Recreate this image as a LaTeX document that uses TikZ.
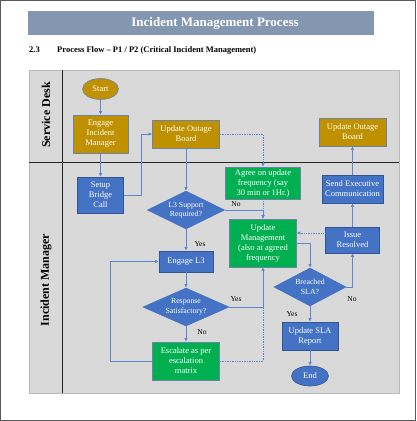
\documentclass[tikz,border=0pt]{standalone}
\usepackage{fontspec}
\setmainfont{Liberation Serif}
\usetikzlibrary{shapes.geometric,arrows.meta}
\definecolor{gold}{HTML}{BF9000}
\definecolor{boxblue}{HTML}{4472C4}
\definecolor{boxgreen}{HTML}{00B050}
\definecolor{edgeblue}{HTML}{6A84A8}
\definecolor{lineblue}{HTML}{5B86D3}
\definecolor{lanegray}{HTML}{D9D9D9}
\definecolor{titlebar}{HTML}{8497B0}
\tikzset{
  box/.style={draw=edgeblue, line width=0.6pt, text=white, align=center,
    font=\fontsize{8.5}{10}\selectfont, inner sep=0pt},
  goldbox/.style={box, fill=gold},
  bluebox/.style={box, fill=boxblue, draw=boxblue!75!black},
  greenbox/.style={box, fill=boxgreen},
  decision/.style={box, diamond, aspect=2.2, fill=boxblue, draw=boxblue,
    font=\fontsize{7.8}{9.5}\selectfont},
  terminal/.style={box, ellipse},
  lbl/.style={font=\fontsize{7.5}{8}\selectfont, inner sep=0pt},
  flow/.style={draw=lineblue, line width=0.7pt, -{Latex[length=3.5pt,width=3.5pt]}},
  link/.style={draw=lineblue, line width=0.7pt},
  dots/.style={draw=lineblue, line width=0.7pt, densely dotted}
}
\begin{document}
\begin{tikzpicture}[x=1pt,y=-1pt]
  \useasboundingbox (0,0) rectangle (416,421);
  \draw[gray!70!black, line width=1pt] (0.5,0.5) rectangle (415.5,420.5);
  % heading
  \fill[titlebar] (28,11) rectangle (374,35);
  \node[text=white, font=\bfseries\fontsize{13}{15}\selectfont] (title) at (215,23) {Incident Management Process};
  \node[anchor=west, font=\bfseries\fontsize{8.5}{10}\selectfont, inner sep=0pt] (secno) at (29,50) {2.3};
  \node[anchor=west, font=\bfseries\fontsize{8.5}{10}\selectfont, inner sep=0pt] (subtitle) at (57,50) {Process Flow -- P1 / P2 (Critical Incident Management)};
  % swim lanes
  \fill[lanegray] (29,70) rectangle (399,393);
  \draw[gray!55] (29,70) rectangle (399,393);
  \draw[gray!30!black, line width=0.8pt] (62,70) -- (62,393);
  \draw[gray!30!black, line width=0.8pt] (29,162) -- (399,162);
  \node[rotate=90, font=\bfseries\fontsize{12}{14}\selectfont] (sdlane) at (46,115) {Service Desk};
  \node[rotate=90, font=\bfseries\fontsize{12}{14}\selectfont] (imlane) at (46,280) {Incident Manager};

  % service desk
  \node[terminal, fill=gold, minimum width=36pt, minimum height=21pt] (start) at (100.5,89) {Start};
  \node[goldbox, minimum width=55pt, minimum height=38pt] (engage) at (100.5,134) {Engage\\Incident\\Manager};
  \node[goldbox, minimum width=67pt, minimum height=28pt] (board) at (186,134) {Update Outage\\Board};
  \node[goldbox, minimum width=67pt, minimum height=28pt] (boardb) at (352.5,132) {Update Outage\\Board};

  % incident manager
  \node[bluebox, minimum width=46pt, minimum height=36pt] (bridge) at (100.5,195) {Setup\\Bridge\\Call};
  \node[decision, minimum width=77pt, minimum height=38pt] (support) at (186,210) {L3 Support\\Required?};
  \node[greenbox, minimum width=75pt, minimum height=32pt] (agree) at (263,183) {Agree on update\\frequency (say\\30 min or 1Hr.)};
  \node[greenbox, minimum width=67pt, minimum height=48pt] (update) at (263,243) {Update\\Management\\(also at agreed\\frequency};
  \node[bluebox, minimum width=54pt, minimum height=21pt] (engagel) at (186,261.5) {Engage L3};
  \node[decision, minimum width=86pt, minimum height=38pt] (response) at (186,307) {Response\\Satisfactory?};
  \node[greenbox, minimum width=67pt, minimum height=38pt] (escalate) at (186,361) {Escalate as per\\escalation\\matrix};
  \node[bluebox, minimum width=61pt, minimum height=28pt] (exec) at (352.5,189) {Send Executive\\Communication};
  \node[bluebox, minimum width=54pt, minimum height=26pt] (resolved) at (352.5,240) {Issue\\Resolved};
  \node[decision, minimum width=72pt, minimum height=38pt] (breach) at (310,287) {Breached\\SLA?};
  \node[bluebox, minimum width=56pt, minimum height=28pt] (report) at (310,336) {Update SLA\\Report};
  \node[terminal, fill=boxblue, draw=boxblue!75!black, minimum width=37pt, minimum height=20pt] (end) at (310,376) {End};

  % connectors
  \draw[flow] (start) -- (engage);
  \draw[flow] (engage) -- (bridge);
  \draw[flow] (bridge.east) -- ++(17.5,0) |- (board.west);
  \draw[flow] (board) -- (support);
  \draw[dots, -{Latex[length=3.5pt,width=3.5pt]}] (board.east) -| (agree.north);
  \draw[dots, -{Latex[length=3.5pt,width=3.5pt]}] (agree) -- (update);
  \draw[flow] (support.east) -| (update.north);
  \node[lbl] (nosupport) at (236,204) {No};
  \draw[flow] (support) -- (engagel);
  \node[lbl] (yessupport) at (200,244) {Yes};
  \draw[flow] (engagel) -- (response);
  \draw[flow] (response.east) -| (update.south);
  \node[lbl] (yesresponse) at (236,299) {Yes};
  \draw[flow] (response) -- (escalate);
  \node[lbl] (noresponse) at (202,332) {No};
  \draw[flow] (escalate.west) -- ++(-41.5,0) |- (engagel.west);
  \draw[dots] (escalate.east) -| (response.east -| update.south);
  \draw[flow] (update.east) -| (breach.north);
  \draw[flow] (breach) -- (report);
  \node[lbl] (yesbreach) at (292,314) {Yes};
  \draw[flow] (breach.east) -| (resolved.south);
  \node[lbl] (nobreach) at (352,299) {No};
  \coordinate (resolvedw) at ([yshift=7pt]resolved.west);
  \draw[dots, -{Latex[length=3.5pt,width=3.5pt]}] (resolvedw) -- (resolvedw -| update.east);
  \draw[flow] (resolved) -- (exec);
  \draw[flow] (exec) -- (boardb);
  \draw[flow] (report) -- (end);
\end{tikzpicture}
\end{document}
